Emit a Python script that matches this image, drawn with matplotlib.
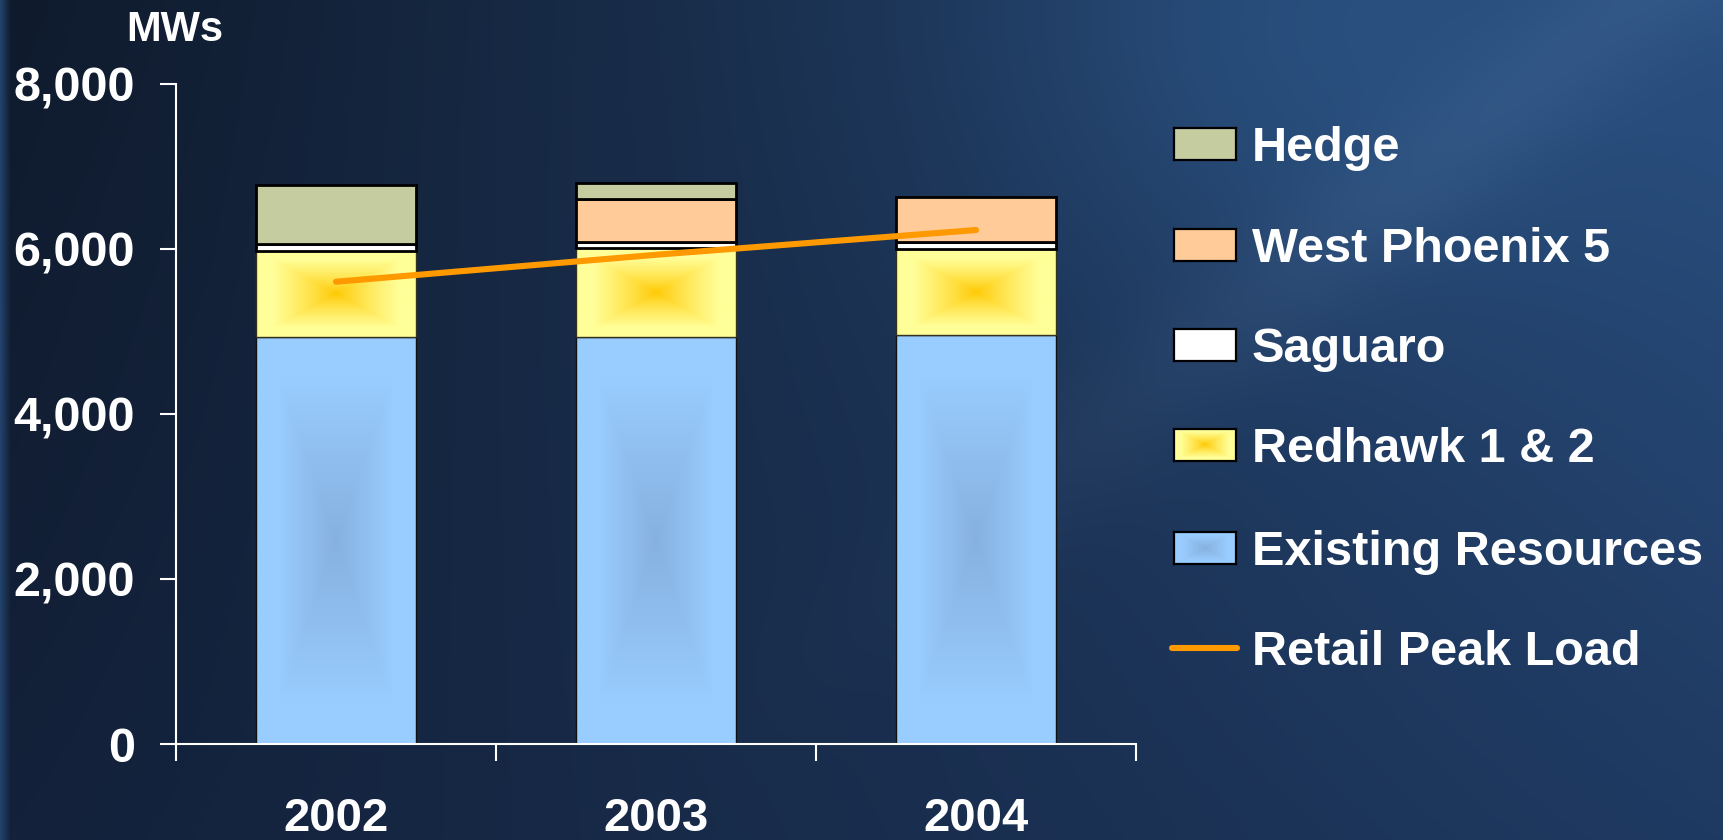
import numpy as np
import matplotlib
matplotlib.use("Agg")
import matplotlib.pyplot as plt
from matplotlib.lines import Line2D
from matplotlib.colors import to_rgb

# ---------------- data ----------------
years = ["2002", "2003", "2004"]
existing = [4930, 4930, 4960]
redhawk = [1050, 1078, 1040]
saguaro = [80, 73, 80]
west_phoenix = [0, 521, 545]
hedge = [715, 194, 0]
retail_peak = [5603, 5930, 6230]
y_ticks = [0, 2000, 4000, 6000, 8000]
y_tick_labels = ["0", "2,000", "4,000", "6,000", "8,000"]
legend_labels = ["Hedge", "West Phoenix 5", "Saguaro", "Redhawk 1 & 2",
                 "Existing Resources", "Retail Peak Load"]

plt.rcParams['font.family'] = ['Liberation Sans', 'DejaVu Sans']
plt.rcParams['font.weight'] = 'bold'

W, H = 1723, 840
fig = plt.figure(figsize=(W / 100, H / 100), dpi=100)

# ---------------- background ----------------
bw, bh = 862, 420
gx = np.linspace(0, 1, bw)[None, :]
gy = np.linspace(0, 1, bh)[:, None]
TL = np.array(to_rgb("#0f1a2c"))
TR = np.array(to_rgb("#294e7e"))
BL = np.array(to_rgb("#13213a"))
BR = np.array(to_rgb("#1f3a62"))
tx = np.clip(gx, 0, 1) ** 1.05
top = TL + (TR - TL) * tx[..., None]
bot = BL + (BR - BL) * tx[..., None]
img = top + (bot - top) * gy[..., None]
# soft highlight upper right
g = np.exp(-(((gx - 0.78) / 0.18) ** 2 + ((gy - 0.05) / 0.30) ** 2))
img = img + (np.array(to_rgb("#2e5a8e")) - img) * (0.55 * g)[..., None]
# soft diagonal streak
d = (gx - 0.50) + (gy - 0.75) * 0.6
streak = np.exp(-(d / 0.06) ** 2) * np.clip((gx - 0.35) / 0.25, 0, 1) * np.clip((1 - gy) * 1.3, 0, 1)
img = img + 0.035 * streak[..., None]
# left edge strip
strip = np.clip(1 - gx * bw / 5.0, 0, 1)
img = img + (np.array(to_rgb("#22416a")) - img) * strip[..., None]
img = np.clip(img, 0, 1)
bg = fig.add_axes([0, 0, 1, 1], zorder=-10)
bg.imshow(img, aspect='auto', interpolation='bilinear', extent=[0, 1, 0, 1])
bg.set_axis_off()

# ---------------- main axes ----------------
ax = fig.add_axes([176 / W, (H - 744) / H, 960 / W, 660 / H])
ax.patch.set_alpha(0)
x = np.arange(len(years))
bw_bar = 0.497


def box_gradient(c_center, c_edge, n=120, power=1.0, core=0.75, aspect=(1, 1)):
    u = np.linspace(-1, 1, n)[None, :]
    v = np.linspace(-1, 1, n)[:, None]
    r = np.maximum(np.abs(u) * aspect[0], np.abs(v) * aspect[1])
    s = np.clip(r / core, 0, 1) ** power
    c0 = np.array(to_rgb(c_center))
    c1 = np.array(to_rgb(c_edge))
    return c0 + (c1 - c0) * s[..., None]


grad_red = box_gradient("#ffc800", "#ffff99", power=0.8, core=0.8)
grad_exist = box_gradient("#86b1de", "#99ccff", power=1.0, core=0.8, aspect=(1.1, 1.0))


def gradient_bars(values, bottoms, grad, edge, lw, z):
    bars = ax.bar(x, values, bw_bar, bottom=bottoms, facecolor='none',
                  edgecolor=edge, linewidth=lw, zorder=z + 0.2)
    for b in bars:
        x0, y0 = b.get_x(), b.get_y()
        im = ax.imshow(grad, extent=[x0, x0 + b.get_width(), y0, y0 + b.get_height()],
                       aspect='auto', interpolation='bilinear', zorder=z)
        clip = plt.Rectangle((x0, y0), b.get_width(), b.get_height(),
                             transform=ax.transData)
        im.set_clip_path(clip)
    return bars


b0 = np.zeros(3)
gradient_bars(existing, b0, grad_exist, "#111111", 1.0, 2)
b1 = b0 + np.array(existing)
gradient_bars(redhawk, b1, grad_red, "#333322", 1.0, 3)
b2 = b1 + np.array(redhawk)
bars_sag = ax.bar(x, saguaro, bw_bar, bottom=b2, color="white",
                  edgecolor="black", linewidth=2.0, zorder=4)
b3 = b2 + np.array(saguaro)
bars_wp = ax.bar(x, west_phoenix, bw_bar, bottom=b3, color="#ffcc99",
                 edgecolor="black", linewidth=2.0, zorder=4)
b4 = b3 + np.array(west_phoenix)
bars_h = ax.bar(x, hedge, bw_bar, bottom=b4, color="#c5cca0",
                edgecolor="black", linewidth=2.0, zorder=4)
for group in (bars_sag, bars_wp, bars_h):
    for p in group:
        if p.get_height() == 0:
            p.set_visible(False)

ax.plot(x, retail_peak, color="#ff9900", lw=4.4, solid_capstyle='round', zorder=6)

ax.set_xlim(-0.5, 2.5)
ax.set_ylim(0, 8000)
for s in ("top", "right"):
    ax.spines[s].set_visible(False)
for s in ("left", "bottom"):
    ax.spines[s].set_color("white")
    ax.spines[s].set_linewidth(1.5)

ax.set_yticks(y_ticks)
ax.set_yticklabels(y_tick_labels)
ax.tick_params(axis='y', direction='out', length=11.5, width=1.5, color='white',
               pad=18, labelsize=35, labelcolor='white')
ax.set_xticks([-0.5, 0.5, 1.5, 2.5])
ax.set_xticklabels([])
ax.set_xticks(x, minor=True)
ax.set_xticklabels(years, minor=True)
ax.tick_params(axis='x', which='major', direction='out', length=12, width=1.5, color='white')
ax.tick_params(axis='x', which='minor', length=0, pad=38, labelsize=34, labelcolor='white')
for lab in ax.get_yticklabels() + ax.get_xticklabels(minor=True):
    lab.set_fontweight('bold')

fig.text(126 / W, 1 - 41 / H, "MWs", color="white", fontsize=30, fontweight='bold',
         ha='left', va='baseline')

# ---------------- legend ----------------
row_y = [144, 245, 345, 445, 548, 648]
px0, px1 = 1174, 1236
ph = 32
leg_fill = ["#c5cca0", "#ffcc99", "#ffffff", grad_red, grad_exist]
for i, lab in enumerate(legend_labels):
    cy = row_y[i]
    if i < 5:
        lax = fig.add_axes([px0 / W, (H - cy - ph / 2) / H, (px1 - px0) / W, ph / H])
        f = leg_fill[i]
        if isinstance(f, str):
            lax.set_facecolor(f)
        else:
            lax.imshow(f, aspect='auto', interpolation='bilinear', extent=[0, 1, 0, 1])
        lax.set_xticks([])
        lax.set_yticks([])
        for s in lax.spines.values():
            s.set_color("black")
            s.set_linewidth(1.6)
    else:
        fig.add_artist(Line2D([1172 / W, 1237 / W], [(H - cy) / H, (H - cy) / H],
                              color="#ff9900", lw=4.4, solid_capstyle='round',
                              transform=fig.transFigure))
    fig.text(1252 / W, (H - cy - 17) / H, lab, color="white", fontsize=35,
             fontweight='bold', ha='left', va='baseline')

fig.savefig("out.png", dpi=100)
